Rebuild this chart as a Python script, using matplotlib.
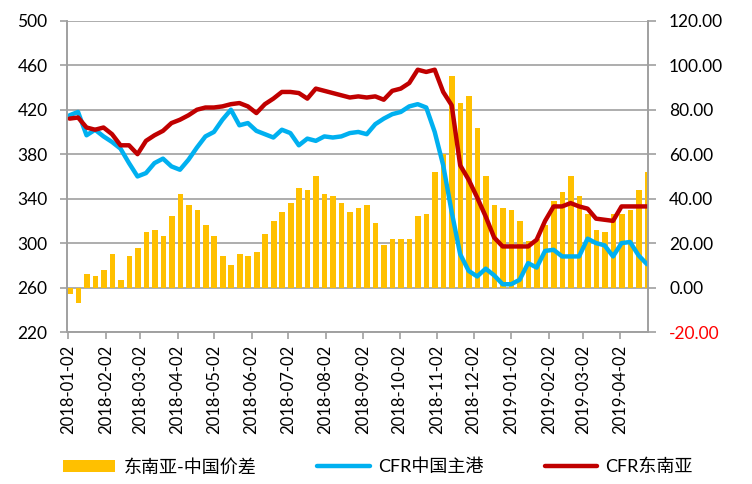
import matplotlib
matplotlib.use('Agg')
import matplotlib.pyplot as plt
import matplotlib.dates as mdates
import pandas as pd
import datetime as dt

plt.rcParams['font.family'] = ['Lato', 'Noto Sans CJK SC', 'DejaVu Sans']

# weekly values, week starting Monday 2018-01-01
weeks = pd.date_range('2018-01-01', periods=69, freq='7D')

cfr_china = [415, 418, 397, 402, 396, 391, 385, 372, 360, 363,
             372, 376, 369, 366, 375, 386, 396, 400, 411, 420,
             406, 408, 401, 398, 395, 402, 399, 388, 394, 392,
             396, 395, 396, 399, 400, 398, 407, 412, 416, 418,
             423, 425, 422, 400, 370, 328, 290, 275, 270, 277,
             271, 263, 263, 267, 282, 278, 293, 294, 288, 288,
             288, 304, 300, 298, 288, 300, 301, 289, 281]

cfr_sea = [412, 413, 404, 402, 404, 398, 388, 388, 380, 392,
           397, 401, 408, 411, 415, 420, 422, 422, 423, 425,
           426, 423, 417, 425, 430, 436, 436, 435, 430, 439,
           437, 435, 433, 431, 432, 431, 432, 429, 437, 439,
           444, 456, 454, 456, 436, 424, 370, 357, 341, 324,
           305, 297, 297, 297, 297, 303, 320, 333, 333, 336,
           333, 331, 322, 321, 320, 333, 333, 333, 333]

spread = [-3, -7, 6, 5, 8, 15, 3.5, 14, 18, 25,
          26, 23, 32, 42, 37, 35, 28, 23, 14, 10,
          15, 14, 16, 24, 30, 34, 38, 45, 44, 50,
          42, 41, 38, 34, 36, 37, 29, 19, 22, 22,
          22, 32, 33, 52, 60, 95, 83, 86, 72, 50,
          37, 36, 35, 30, 21, 22, 28, 39, 43, 50,
          41, 33, 26, 25, 33, 33, 35, 44, 52]

tick_dates = pd.date_range('2018-01-01', '2019-04-01', freq='MS') + pd.Timedelta(days=1)

fig = plt.figure(figsize=(7.52, 4.84), dpi=100)
ax = fig.add_axes([0.089, 0.314, 0.773, 0.643])
ax2 = ax.twinx()
ax.set_zorder(ax2.get_zorder() + 1)
ax.patch.set_visible(False)

grey = '#A0A0A0'

# bars on the right axis
ax2.bar(weeks, spread, width=4.6, align='edge', color='#FFC000', linewidth=0,
        label='东南亚-中国价差', zorder=2)
ax2.set_ylim(-20, 120)
ax2.set_yticks(range(-20, 121, 20))
ax2.set_yticklabels(['%.2f' % v for v in range(-20, 121, 20)])
ax2.yaxis.grid(True, color=grey, linewidth=1.2)
ax2.set_axisbelow(True)

# lines on the left axis
mid = weeks + pd.Timedelta(days=2)
ax.plot(mid, cfr_china, color='#00B0F0', linewidth=3.2, label='CFR中国主港',
        solid_joinstyle='round', solid_capstyle='round')
ax.plot(mid, cfr_sea, color='#C00000', linewidth=3.2, label='CFR东南亚',
        solid_joinstyle='round', solid_capstyle='round')
ax.set_ylim(220, 500)
ax.set_yticks(range(220, 501, 40))

ax.set_xlim(dt.datetime(2017, 12, 31, 20), dt.datetime(2019, 4, 25))
ax.set_xticks(tick_dates)
ax.xaxis.set_major_formatter(mdates.DateFormatter('%Y-%m-%d'))
for lbl in ax.get_xticklabels():
    lbl.set_rotation(90)

for a in (ax, ax2):
    for s in a.spines.values():
        s.set_color(grey)
        s.set_linewidth(1.2)
    a.spines['top'].set_visible(False)
ax.tick_params(axis='x', colors=grey, labelcolor='black', length=5, width=1.2,
               labelsize=12, pad=4)
ax.tick_params(axis='y', colors=grey, labelcolor='black', length=5, width=1.2,
               labelsize=12.5, pad=9)
ax2.tick_params(axis='y', colors=grey, labelcolor='black', length=6, width=1.2,
                labelsize=12.5, pad=9)
ax2.get_yticklabels()[0].set_color('red')

h1, l1 = ax2.get_legend_handles_labels()
h2, l2 = ax.get_legend_handles_labels()
fig.legend(h1 + h2, l1 + l2, loc='center left', bbox_to_anchor=(0.062, 0.035),
           ncol=3, frameon=False, fontsize=13, handlelength=2.9,
           handleheight=0.7, handletextpad=0.45, columnspacing=3.4)

fig.savefig('out.png', dpi=100)
